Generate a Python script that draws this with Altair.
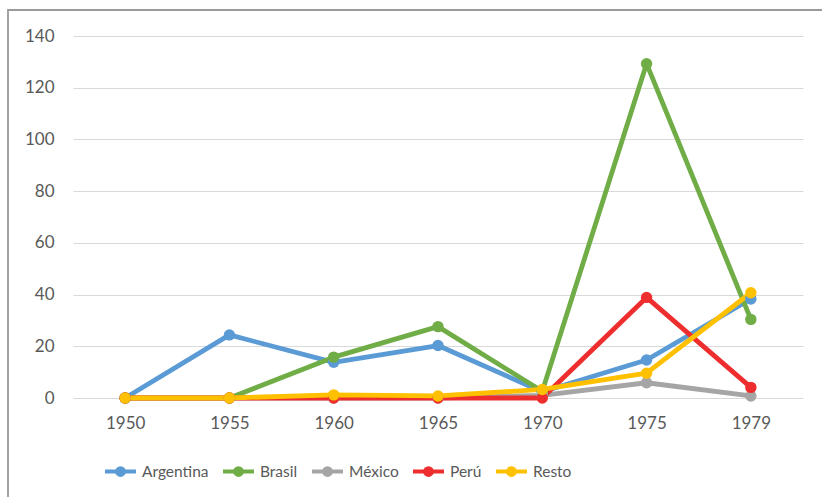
import altair as alt
import pandas as pd

years = ["1950", "1955", "1960", "1965", "1970", "1975", "1979"]
series_names = ["Argentina", "Brasil", "México", "Perú", "Resto"]
argentina = [0, 24.4, 13.8, 20.3, 2.4, 14.7, 38.3]
brasil = [0, 0, 15.8, 27.6, 2.6, 129.3, 30.4]
mexico = [0, 0, 0, 0, 1.0, 5.9, 0.8]
peru = [0, 0, 0, 0, 0, 38.9, 4.1]
resto = [0, 0, 1.2, 0.8, 3.3, 9.6, 40.7]
colors = ["#5B9BD5", "#70AD47", "#A5A5A5", "#EE2E2E", "#FFC000"]
y_ticks = [0, 20, 40, 60, 80, 100, 120, 140]

rows = []
for order, (name, vals) in enumerate(zip(series_names, [argentina, brasil, mexico, peru, resto])):
    for yr, v in zip(years, vals):
        rows.append({"Año": yr, "Serie": name, "Valor": v, "orden": order})
df = pd.DataFrame(rows)

FONT = "Lato"
TXT = "#595959"

legend_path = ("M-1,0H1"
               "M-0.22,0a0.22,0.22 0 1,0 0.44,0a0.22,0.22 0 1,0 -0.44,0"
               "M-0.06,0a0.06,0.06 0 1,0 0.12,0a0.06,0.06 0 1,0 -0.12,0")

x_enc = alt.X("Año:O", sort=years,
              scale=alt.Scale(type="point", padding=0.5),
              axis=alt.Axis(title=None, labelAngle=0, ticks=False, domain=False,
                            grid=False, labelPadding=17, labelFontSize=17,
                            labelColor=TXT, labelFont=FONT))
y_enc = alt.Y("Valor:Q", scale=alt.Scale(domain=[0, 140], nice=False),
              axis=alt.Axis(title=None, values=y_ticks, ticks=False, domain=False,
                            gridColor="#D9D9D9", gridWidth=1.2, labelPadding=19,
                            labelFontSize=17, labelColor=TXT, labelFont=FONT))
color_enc = alt.Color("Serie:N", scale=alt.Scale(domain=series_names, range=colors),
                      legend=alt.Legend(title=None, orient="none", direction="horizontal",
                                        legendX=30, legendY=418,
                                        symbolType=legend_path, symbolSize=961,
                                        symbolStrokeWidth=4, labelFontSize=15.5,
                                        labelFont=FONT, labelColor=TXT,
                                        labelOffset=4, columnPadding=6, padding=0))

base = alt.Chart(df)
lines = base.mark_line(strokeWidth=4.8, strokeCap="round", strokeJoin="round").encode(
    x=x_enc, y=y_enc, color=color_enc, order="orden:Q")
points = base.mark_point(filled=True, size=130, opacity=1).encode(
    x=x_enc, y=y_enc, color=alt.Color("Serie:N", scale=alt.Scale(domain=series_names, range=colors), legend=None),
    order="orden:Q")

frame = alt.Chart(alt.Data(values=[{"k": 1}])).mark_rect(
    fill="transparent", stroke="#9A9A9A", strokeWidth=1.8).encode(
    x=alt.value(-65), x2=alt.value(800), y=alt.value(-26), y2=alt.value(600))

chart = alt.layer(frame, lines, points).properties(
    width=730, height=362,
    autosize=alt.AutoSizeParams(type="none"),
    padding={"left": 73, "top": 36, "right": 19, "bottom": 99},
    background="white",
).configure_view(stroke=None)

chart.save("out.html", embed_options={"renderer": "svg", "actions": False})
